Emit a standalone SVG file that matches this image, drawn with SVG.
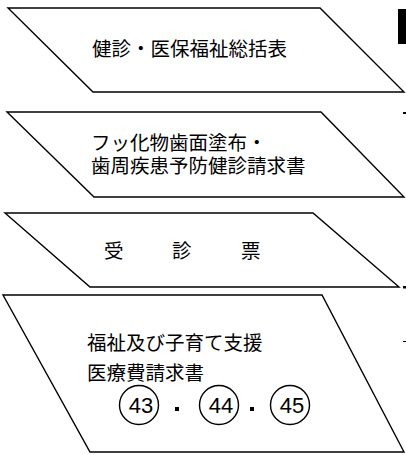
<svg xmlns="http://www.w3.org/2000/svg" width="406" height="455" viewBox="0 0 406 455">
<style>
.shape{fill:#ffffff;stroke:#000000;stroke-width:1.4;stroke-linejoin:miter}
.jp{font-family:"Noto Sans CJK JP","Noto Sans CJK SC",sans-serif;font-size:19.5px;fill:#000000}
.num{font-family:"Liberation Sans",Arial,sans-serif;font-size:22px;fill:#000000;text-anchor:middle}
.ring{fill:none;stroke:#000000;stroke-width:1.4}
.mark{fill:#000000}
</style>
<rect width="406" height="455" fill="#ffffff"/>
<g id="node-1">
<polygon class="shape" points="8,8 320,8 404,92 93,92"/>
<text class="jp" x="92" y="56">健診・医保福祉総括表</text>
</g>
<g id="node-2">
<polygon class="shape" points="7,112 321,112 404,197 94,197"/>
<text class="jp" x="91" y="150">フッ化物歯面塗布・<tspan x="91" dy="23">歯周疾患予防健診請求書</tspan></text>
</g>
<g id="node-3">
<polygon class="shape" points="5,213 313,213 399,287 90,287"/>
<text class="jp" y="258"><tspan x="104">受</tspan><tspan x="172">診</tspan><tspan x="241">票</tspan></text>
</g>
<g id="node-4">
<polygon class="shape" points="3,295 322,295 404,452 90,452"/>
<text class="jp" x="87" y="350">福祉及び子育て支援<tspan x="87" dy="30">医療費請求書</tspan></text>
<circle class="ring" cx="139" cy="405" r="19.5"/>
<circle class="ring" cx="219" cy="405" r="19.5"/>
<circle class="ring" cx="290" cy="405" r="19.5"/>
<text class="num" x="141" y="413">43</text>
<text class="num" x="221" y="413">44</text>
<text class="num" x="292" y="413">45</text>
<rect class="mark" x="175" y="407" width="4" height="4"/>
<rect class="mark" x="250" y="407" width="4" height="4"/>
</g>
<g id="connectors"></g>
<g id="edge-marks">
<rect class="mark" x="398" y="9" width="8" height="35"/>
<rect class="mark" x="403" y="112" width="3" height="2"/>
<rect class="mark" x="403" y="286" width="3" height="2.5"/>
<rect class="mark" x="403" y="341" width="3" height="1"/>
</g>
</svg>
